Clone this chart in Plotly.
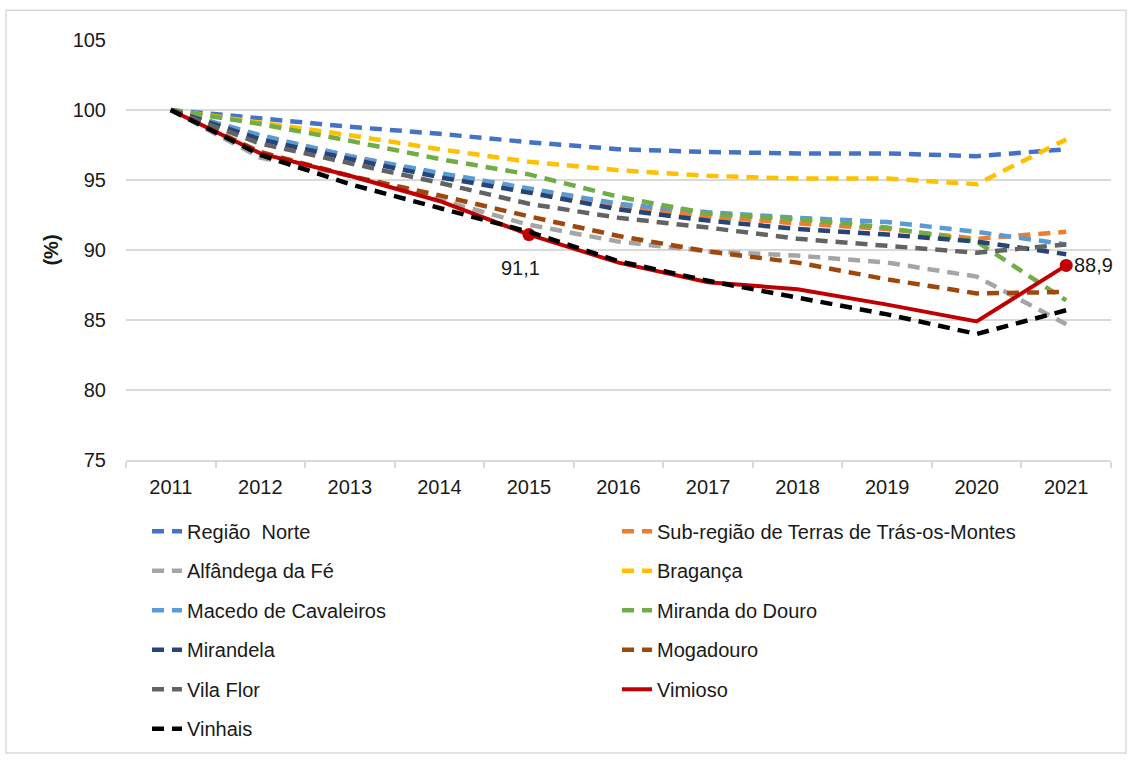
import plotly.graph_objects as go

years = ["2011", "2012", "2013", "2014", "2015", "2016", "2017", "2018", "2019", "2020", "2021"]

regiao_norte = [100, 99.4, 98.8, 98.3, 97.7, 97.2, 97.0, 96.9, 96.9, 96.7, 97.2]
sub_regiao = [100, 98.1, 96.7, 95.4, 94.2, 93.1, 92.4, 91.9, 91.5, 90.8, 91.3]
alfandega = [100, 96.6, 95.3, 93.6, 91.8, 90.6, 89.9, 89.6, 89.1, 88.1, 84.7]
braganca = [100, 99.1, 98.2, 97.2, 96.3, 95.7, 95.3, 95.1, 95.1, 94.7, 97.9]
macedo = [100, 98.2, 96.7, 95.5, 94.4, 93.3, 92.7, 92.3, 92.0, 91.3, 90.4]
miranda = [100, 99.0, 97.8, 96.5, 95.4, 93.8, 92.6, 92.2, 91.6, 90.6, 86.4]
mirandela = [100, 97.9, 96.5, 95.2, 94.1, 92.9, 92.1, 91.5, 91.1, 90.6, 89.7]
mogadouro = [100, 97.0, 95.3, 93.9, 92.4, 91.0, 89.9, 89.1, 87.9, 86.9, 87.0]
vila_flor = [100, 97.6, 96.2, 94.8, 93.3, 92.3, 91.6, 90.8, 90.3, 89.8, 90.4]
vimioso = [100, 96.9, 95.3, 93.5, 91.1, 89.1, 87.7, 87.2, 86.1, 84.9, 88.9]
vinhais = [100, 96.8, 94.7, 93.0, 91.3, 89.2, 87.8, 86.6, 85.4, 84.0, 85.7]

vimioso_labels = ["", "", "", "", "91,1", "", "", "", "", "", "88,9"]

series = [
    ("Região  Norte", regiao_norte, "#4472C4", "legend"),
    ("Sub-região de Terras de Trás-os-Montes", sub_regiao, "#ED7D31", "legend2"),
    ("Alfândega da Fé", alfandega, "#A5A5A5", "legend"),
    ("Bragança", braganca, "#FFC000", "legend2"),
    ("Macedo de Cavaleiros", macedo, "#5B9BD5", "legend"),
    ("Miranda do Douro", miranda, "#70AD47", "legend2"),
    ("Mirandela", mirandela, "#264478", "legend"),
    ("Mogadouro", mogadouro, "#9E480E", "legend2"),
    ("Vila Flor", vila_flor, "#636363", "legend"),
    ("Vimioso", vimioso, "#C00000", "legend2"),
    ("Vinhais", vinhais, "#000000", "legend"),
]

FONT = "Arial, 'Liberation Sans', sans-serif"
TXT = "#1a1a1a"
fig = go.Figure()

annotations = []
for name, vals, color, leg in series:
    if name == "Vimioso":
        fig.add_trace(go.Scatter(
            x=years, y=vals, name=name, mode="lines",
            line=dict(color=color, width=4),
            legend=leg, legendgroup=name,
        ))
        idx = [i for i, t in enumerate(vimioso_labels) if t]
        fig.add_trace(go.Scatter(
            x=[years[i] for i in idx], y=[vals[i] for i in idx], mode="markers",
            marker=dict(color=color, size=13), showlegend=False,
            legendgroup=name, name=name,
        ))
        for i in idx:
            last = i == len(years) - 1
            annotations.append(dict(
                x=i, y=vals[i], xref="x", yref="y", text=vimioso_labels[i],
                showarrow=False, font=dict(family=FONT, size=20, color=TXT),
                xshift=27 if last else -8, yshift=0 if last else -33,
                xanchor="center", yanchor="middle",
            ))
    else:
        fig.add_trace(go.Scatter(
            x=years, y=vals, name=name, mode="lines",
            line=dict(color=color, width=4.5, dash="12px,8px"),
            legend=leg, legendgroup=name,
        ))

H_PLOT = 423.0
W_PLOT = 985.0

fig.update_layout(
    width=1129, height=761,
    margin=dict(l=126, r=18, t=40, b=298),
    paper_bgcolor="white", plot_bgcolor="white",
    font=dict(family=FONT, size=20, color=TXT),
    showlegend=True,
    legend=dict(
        x=(147 - 126) / W_PLOT, y=(463 - 515) / H_PLOT, xanchor="left", yanchor="top",
        orientation="v", tracegroupgap=10.5, font=dict(size=20, family=FONT, color=TXT),
        bgcolor="rgba(0,0,0,0)",
    ),
    legend2=dict(
        x=(617 - 126) / W_PLOT, y=(463 - 515) / H_PLOT, xanchor="left", yanchor="top",
        orientation="v", tracegroupgap=10.5, font=dict(size=20, family=FONT, color=TXT),
        bgcolor="rgba(0,0,0,0)",
    ),
    xaxis=dict(
        type="category", range=[-0.5, len(years) - 0.5], autorange=False,
        showgrid=False, showline=True, linecolor="#d9d9d9", linewidth=1.5,
        ticks="outside", tickson="boundaries", ticklen=6, tickcolor="#d9d9d9", tickwidth=1.5,
        tickfont=dict(size=20, family=FONT, color=TXT), ticklabelstandoff=8, tickangle=0,
        zeroline=False, automargin=False,
    ),
    yaxis=dict(
        range=[75, 105], dtick=5, tick0=75, showgrid=True, gridcolor="#d9d9d9", gridwidth=1.5,
        showline=False, zeroline=False, ticks="", automargin=False,
        tickfont=dict(size=20, family=FONT, color=TXT), ticklabelstandoff=19,
        title=dict(text="<b>(%)</b>", font=dict(size=20, family=FONT, color=TXT), standoff=8),
    ),
    annotations=annotations,
    shapes=[dict(
        type="rect", xref="paper", yref="paper",
        x0=(6 - 126) / W_PLOT, x1=(1126 - 126) / W_PLOT,
        y0=(463 - 758) / H_PLOT, y1=(463 - 10) / H_PLOT,
        line=dict(color="#d9d9d9", width=1.5), fillcolor="rgba(0,0,0,0)", layer="below",
    )],
)

fig.write_html(
    "out.html",
    config={"displayModeBar": False},
    post_script="document.body.style.margin='0';document.body.style.overflow='hidden';",
)
